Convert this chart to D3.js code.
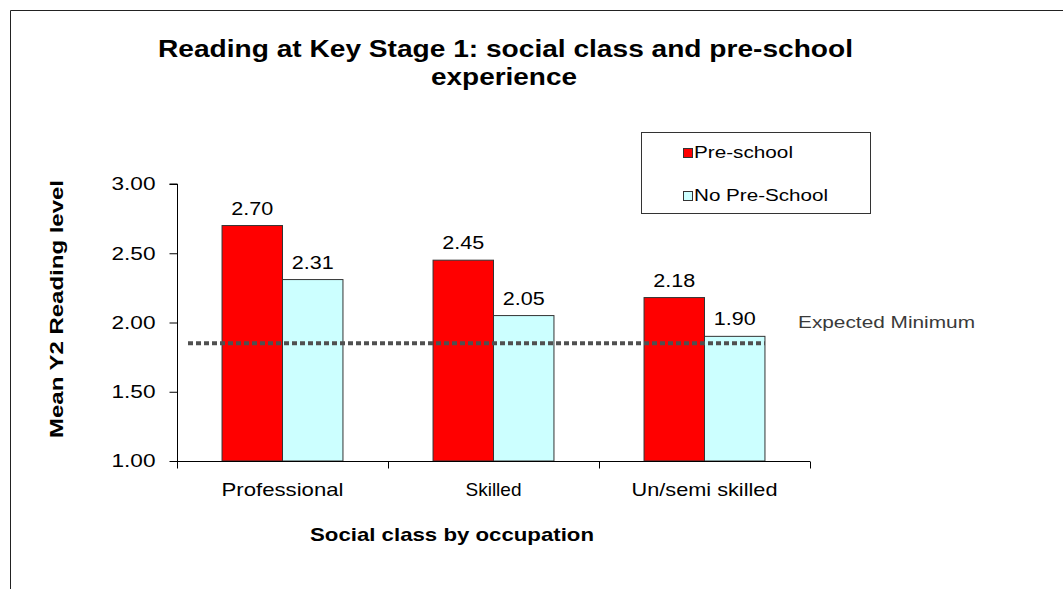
<!DOCTYPE html>
<html lang="en">
  <head>
    <meta charset="utf-8">
    <title>Reading at Key Stage 1</title>
    <script src="https://d3js.org/d3.v7.min.js"></script>
    <style>
      body { margin: 0; background: #fff; }
      text { font-family: Arial, "Liberation Sans", sans-serif; fill: #000; }
    </style>
  </head>
  <body>
    <svg width="1063" height="589"></svg>
    <script type="text/javascript">
      // chart data
      var categories = ["Professional", "Skilled", "Un/semi skilled"];
      var seriesNames = ["Pre-school", "No Pre-School"];
      var preSchool = [2.70, 2.45, 2.18];
      var noPreSchool = [2.31, 2.05, 1.90];
      var expectedMinimum = 1.85;
      var yTicks = [1.00, 1.50, 2.00, 2.50, 3.00];
      var seriesColors = ["#ff0000", "#ccffff"];

      // the source picture is a stretched slide, so texts get squeezed/stretched to these widths
      var catLabelWidth = { "Professional": 122, "Skilled": 56, "Un/semi skilled": 146 };
      var legendWidth = { "Pre-school": 99, "No Pre-School": 134 };

      function fit(sel, w) {
        sel.attr("textLength", w).attr("lengthAdjust", "spacingAndGlyphs");
      }

      var svg = d3.select("svg");

      // outer frame (top + left only)
      svg.append("path")
          .attr("d", "M10.5,589 V10.5 H1063")
          .attr("fill", "none")
          .attr("stroke", "#222")
          .attr("stroke-width", 1);

      var x0 = d3.scaleBand()
          .domain(categories)
          .range([177, 810]);

      var x1 = d3.scaleBand()
          .domain(seriesNames)
          .range([0, x0.bandwidth()])
          .paddingInner(0)
          .paddingOuter(0.745);

      var y = d3.scaleLinear()
          .domain([1, 3])
          .range([461, 184]);

      var color = d3.scaleOrdinal().domain(seriesNames).range(seriesColors);

      var rows = categories.map(function(c, i) {
        return { cat: c, vals: [
          { s: seriesNames[0], v: preSchool[i] },
          { s: seriesNames[1], v: noPreSchool[i] }
        ]};
      });

      // title
      svg.append("text")
          .attr("x", 505.5).attr("y", 57)
          .attr("text-anchor", "middle")
          .attr("font-weight", "bold")
          .attr("font-size", 23)
          .text("Reading at Key Stage 1: social class and pre-school")
          .call(fit, 695);
      svg.append("text")
          .attr("x", 504).attr("y", 85)
          .attr("text-anchor", "middle")
          .attr("font-weight", "bold")
          .attr("font-size", 23)
          .text("experience")
          .call(fit, 146);

      // bars
      var groups = svg.append("g").selectAll("g")
          .data(rows)
          .enter().append("g")
          .attr("transform", function(d) { return "translate(" + x0(d.cat) + ",0)"; });

      groups.selectAll("rect")
          .data(function(d) { return d.vals; })
          .enter().append("rect")
          .attr("x", function(d) { return x1(d.s); })
          .attr("y", function(d) { return y(d.v); })
          .attr("width", x1.bandwidth())
          .attr("height", function(d) { return y(1) - y(d.v); })
          .attr("fill", function(d) { return color(d.s); })
          .attr("stroke", "#333")
          .attr("stroke-width", 1);

      groups.selectAll("text.val")
          .data(function(d) { return d.vals; })
          .enter().append("text")
          .attr("class", "val")
          .attr("x", function(d) { return x1(d.s) + x1.bandwidth() / 2; })
          .attr("y", function(d) { return y(d.v) - 11; })
          .attr("text-anchor", "middle")
          .attr("font-size", 18)
          .text(function(d) { return d.v.toFixed(2); })
          .call(fit, 42);

      // expected minimum dotted line
      var lastCat = categories[categories.length - 1];
      svg.append("line")
          .attr("x1", x0.range()[0] + 11)
          .attr("x2", x0(lastCat) + x1(seriesNames[1]) + x1.bandwidth())
          .attr("y1", y(expectedMinimum))
          .attr("y2", y(expectedMinimum))
          .attr("stroke", "#505050")
          .attr("stroke-width", 4)
          .attr("stroke-dasharray", "5,3");

      svg.append("text")
          .attr("x", 798)
          .attr("y", 328)
          .attr("font-family", "'Open Sans', sans-serif")
          .attr("font-size", 16)
          .style("fill", "#3a3a3a")
          .text("Expected Minimum")
          .call(fit, 177);

      // y axis
      var yAxis = svg.append("g")
          .attr("transform", "translate(177.5,0)")
          .call(d3.axisLeft(y).tickValues(yTicks).tickFormat(d3.format(".2f")).tickSize(8).tickPadding(14));
      yAxis.select(".domain").attr("d", "M-8," + y(3) + "H0V" + y(1));
      yAxis.selectAll("text")
          .attr("font-size", 18)
          .attr("font-family", "Arial, 'Liberation Sans', sans-serif")
          .call(fit, 44);

      // x axis
      var xAxis = svg.append("g")
          .attr("transform", "translate(0," + (y(1) + 0.5) + ")")
          .call(d3.axisBottom(x0).tickSize(0).tickPadding(21));
      xAxis.select(".domain").attr("d", "M177,0H810");
      xAxis.selectAll("text")
          .attr("font-size", 19)
          .attr("font-family", "Arial, 'Liberation Sans', sans-serif")
          .attr("textLength", function(d) { return catLabelWidth[d]; })
          .attr("lengthAdjust", "spacingAndGlyphs");
      // boundary ticks between categories
      var bounds = categories.map(function(c) { return x0(c); }).concat([x0.range()[1]]);
      xAxis.selectAll("line.bound")
          .data(bounds)
          .enter().append("line")
          .attr("class", "bound")
          .attr("x1", function(d) { return d + 0.5; })
          .attr("x2", function(d) { return d + 0.5; })
          .attr("y1", 0)
          .attr("y2", 7)
          .attr("stroke", "#000");

      // axis titles
      svg.append("text")
          .attr("x", 452)
          .attr("y", 541)
          .attr("text-anchor", "middle")
          .attr("font-weight", "bold")
          .attr("font-size", 19)
          .text("Social class by occupation")
          .call(fit, 284);

      svg.append("text")
          .attr("transform", "translate(63,309) rotate(-90)")
          .attr("text-anchor", "middle")
          .attr("font-weight", "bold")
          .attr("font-size", 19)
          .text("Mean Y2 Reading level")
          .call(fit, 258);

      // legend
      var legend = svg.append("g");
      legend.append("rect")
          .attr("x", 641.5).attr("y", 132.5)
          .attr("width", 229).attr("height", 81)
          .attr("fill", "#fff")
          .attr("stroke", "#333");

      var items = legend.selectAll("g.item")
          .data(seriesNames)
          .enter().append("g")
          .attr("class", "item")
          .attr("transform", function(d, i) { return "translate(683," + (158 + i * 43) + ")"; });

      items.append("rect")
          .attr("x", 0.5).attr("y", -9.5)
          .attr("width", 9).attr("height", 9)
          .attr("fill", function(d) { return color(d); })
          .attr("stroke", "#333");

      items.append("text")
          .attr("x", 11)
          .attr("y", 0)
          .attr("font-size", 16)
          .text(function(d) { return d; })
          .attr("textLength", function(d) { return legendWidth[d]; })
          .attr("lengthAdjust", "spacingAndGlyphs");
    </script>
  </body>
</html>
